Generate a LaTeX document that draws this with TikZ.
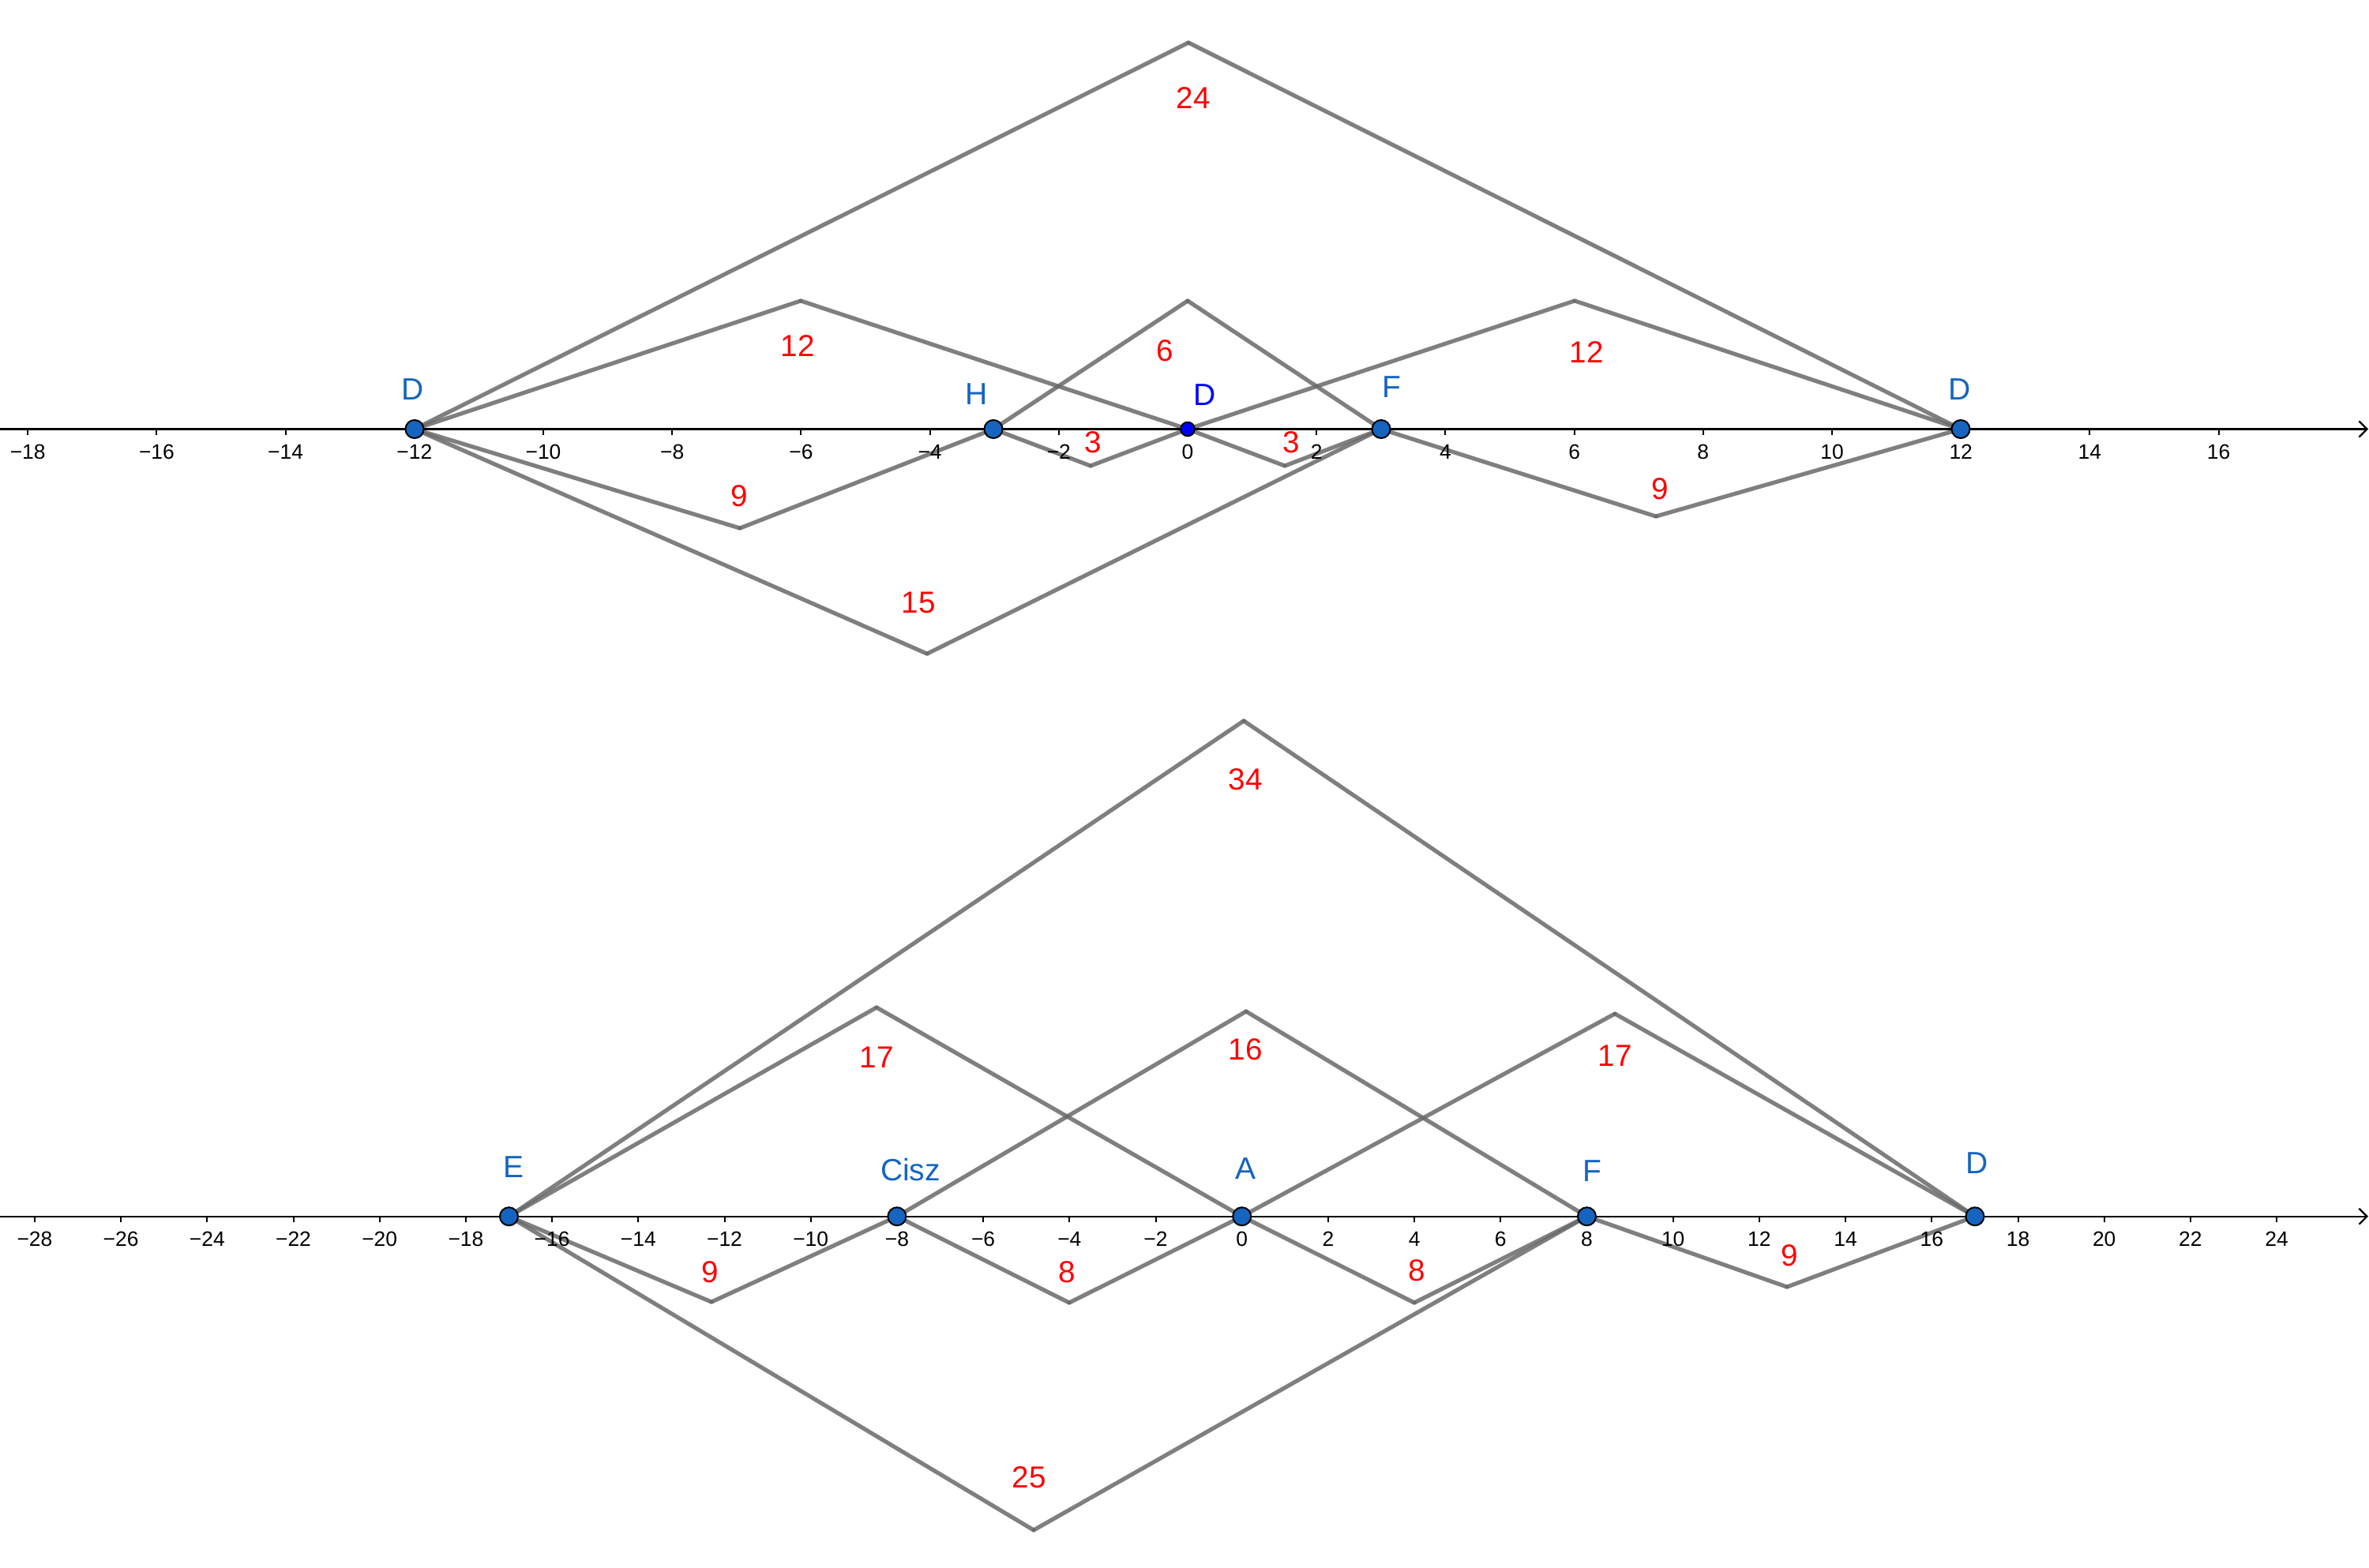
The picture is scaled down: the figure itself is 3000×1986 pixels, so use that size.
\documentclass[tikz,border=0pt]{standalone}
\usepackage{fontspec}
\setmainfont{Liberation Sans}
\usetikzlibrary{arrows.meta}
\definecolor{ptblue}{RGB}{21,101,192}
\definecolor{purblue}{RGB}{0,0,255}
\definecolor{lblred}{RGB}{255,0,0}
\definecolor{segcol}{RGB}{104,104,104}
\newcommand\numlbl[1]{\ifnum#1<0 −\number\numexpr-#1\relax\else#1\fi}
\begin{document}
\begin{tikzpicture}[x=0.5pt,y=-0.5pt,
  seg/.style={draw=segcol, draw opacity=0.85, line width=2.6pt, line cap=round},
  axisline/.style={line width=1.1pt, -{Straight Barb[length=5pt,width=10pt,line width=1.1pt]}},
  tickmark/.style={line width=1pt},
  ticklbl/.style={font=\fontsize{13.2}{15}\selectfont, inner sep=0pt},
  pt/.style={circle, fill=ptblue, draw=black, line width=1pt, minimum size=11.5pt, inner sep=0pt},
  ptsmall/.style={circle, fill=purblue, draw=black, line width=1pt, minimum size=8.8pt, inner sep=0pt},
  ptlbl/.style={text=ptblue, font=\fontsize{19.5}{22}\selectfont, inner sep=0pt},
  ptlblb/.style={text=purblue, font=\fontsize{19.5}{22}\selectfont, inner sep=0pt},
  numlab/.style={text=lblred, font=\fontsize{19.3}{22}\selectfont, inner sep=0pt}]
\useasboundingbox (0,0) rectangle (3000,1986);
% ---------- top figure ----------
\coordinate (TDl) at (525,543.5);
\coordinate (TH) at (1258,543.5);
\coordinate (TD0) at (1504,543.5);
\coordinate (TF) at (1749,543.5);
\coordinate (TDr) at (2483,543.5);
\coordinate (t24) at (1505,54);
\coordinate (t12l) at (1014,381);
\coordinate (t12r) at (1994,381);
\coordinate (t6) at (1504,381);
\coordinate (t9l) at (937,669);
\coordinate (t3l) at (1381,590);
\coordinate (t3r) at (1627,590);
\coordinate (t15) at (1174,828);
\coordinate (t9r) at (2097,654);
\foreach \a/\b in {TDl/t24,t24/TDr,TDl/t12l,t12l/TD0,TD0/t12r,t12r/TDr,TH/t6,t6/TF,
  TDl/t9l,t9l/TH,TH/t3l,t3l/TD0,TD0/t3r,t3r/TF,TDl/t15,t15/TF,TF/t9r,t9r/TDr}
  \draw[seg] (\a) -- (\b);
\coordinate (TA0) at (0,543.5);
\coordinate (TA1) at (2999,543.5);
\draw[axisline] (TA0) -- (TA1);
\foreach \k in {-18,-16,...,16} {
  \draw[tickmark] ({1504+81.6*\k},543.5) -- ++(0,7);
  \node[ticklbl] at ({1504+81.6*\k},572) {\numlbl{\k}};
}
\node[pt] at (TDl) {};
\node[pt] at (TH) {};
\node[ptsmall] at (TD0) {};
\node[pt] at (TF) {};
\node[pt] at (TDr) {};
\node[ptlbl] (lTDl) at (523,493) {D};
\node[ptlbl] (lTH) at (1237,499) {H};
\node[ptlblb] (lTD0) at (1526,500) {D};
\node[ptlbl] (lTF) at (1762,490) {F};
\node[ptlbl] (lTDr) at (2482,493) {D};
\node[numlab] (n24) at (1511,124) {24};
\node[numlab] (n12l) at (1010,438) {12};
\node[numlab] (n12r) at (2009,446) {12};
\node[numlab] (n6) at (1475,444) {6};
\node[numlab] (n9l) at (936,628) {9};
\node[numlab] (n3l) at (1384,560) {3};
\node[numlab] (n3r) at (1635,560) {3};
\node[numlab] (n15) at (1163,763) {15};
\node[numlab] (n9r) at (2102,619) {9};
% ---------- bottom figure ----------
\coordinate (BE) at (644.5,1540.7);
\coordinate (BC) at (1135.9,1540.7);
\coordinate (BA) at (1572.7,1540.7);
\coordinate (BF) at (2009.5,1540.7);
\coordinate (BD) at (2500.9,1540.7);
\coordinate (b34) at (1575,913);
\coordinate (b17l) at (1110,1276);
\coordinate (b16) at (1578,1281);
\coordinate (b17r) at (2045,1284);
\coordinate (b9l) at (901,1649);
\coordinate (b8l) at (1354,1650);
\coordinate (b8r) at (1791,1650);
\coordinate (b9r) at (2263,1630);
\coordinate (b25) at (1309,1938);
\foreach \a/\b in {BE/b34,b34/BD,BE/b17l,b17l/BA,BC/b16,b16/BF,BA/b17r,b17r/BD,
  BE/b9l,b9l/BC,BC/b8l,b8l/BA,BA/b8r,b8r/BF,BF/b9r,b9r/BD,BE/b25,b25/BF}
  \draw[seg] (\a) -- (\b);
\coordinate (BA0) at (0,1540.7);
\coordinate (BA1) at (2999,1540.7);
\draw[axisline] (BA0) -- (BA1);
\foreach \k in {-28,-26,...,24} {
  \draw[tickmark] ({1572.7+54.6*\k},1540.7) -- ++(0,7);
  \node[ticklbl] at ({1572.7+54.6*\k},1569.5) {\numlbl{\k}};
}
\node[pt] at (BE) {};
\node[pt] at (BC) {};
\node[pt] at (BA) {};
\node[pt] at (BF) {};
\node[pt] at (BD) {};
\node[ptlbl] (lBE) at (650,1478) {E};
\node[ptlbl] (lBC) at (1153,1482) {Cisz};
\node[ptlbl] (lBA) at (1577,1480) {A};
\node[ptlbl] (lBF) at (2016,1483) {F};
\node[ptlbl] (lBD) at (2504,1473) {D};
\node[numlab] (m34) at (1577,987) {34};
\node[numlab] (m17l) at (1110,1339) {17};
\node[numlab] (m16) at (1577,1329) {16};
\node[numlab] (m17r) at (2045,1337) {17};
\node[numlab] (m9l) at (899,1611) {9};
\node[numlab] (m8l) at (1351,1611) {8};
\node[numlab] (m8r) at (1794,1609) {8};
\node[numlab] (m9r) at (2266,1590) {9};
\node[numlab] (m25) at (1303,1871) {25};
\end{tikzpicture}
\end{document}
